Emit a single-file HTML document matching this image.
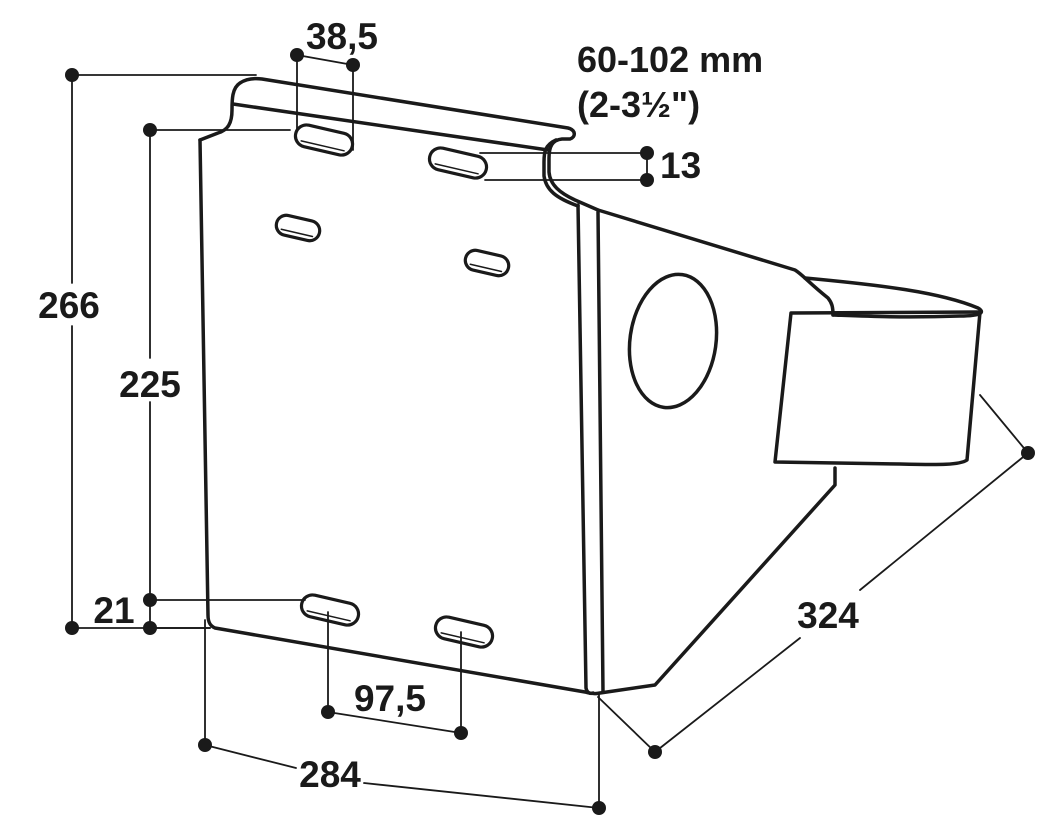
<!DOCTYPE html>
<html><head><meta charset="utf-8"><style>
html,body{margin:0;padding:0;background:#fff;}
svg{display:block;}
text{font-family:"Liberation Sans",Arial,sans-serif;font-weight:bold;fill:#1a1a1a;}
</style></head><body>
<svg width="1041" height="820" viewBox="0 0 1041 820" xmlns="http://www.w3.org/2000/svg">
<g fill="none" stroke="#1a1a1a" stroke-linejoin="round" stroke-linecap="round">
<g stroke-width="3.5">
<path d="M200,140 L218,133 C228,130 232,123 232,110 C232,100 232,88 240,83 C246,79 254,78 262,79 L568,128 C576,130 576,137 570,139 L562,139 C552,140 549,147 549,158 L549,172 C550,185 560,193 575,200 L598,210"/>
<path d="M233,104 L548,150"/>
<path d="M556,140 C545,145 544,152 544,162 L544,176 C546,190 556,198 578,206"/>
<path d="M200,140 L208,615 C208,622 210,626 215,628 L585,692 C592,694 596,694 600,693 L655,685 L835,485 L835,468"/>
<path d="M578,205 L586,688 C587,693 590,694 593,693"/>
<path d="M598,212 L603,692"/>
<path d="M598,210 L795,270 C803,275 808,282 828,298 C832,303 833,307 833,315"/>
<ellipse cx="673" cy="341" rx="43" ry="67" transform="rotate(8 673 341)"/>
<path d="M805,278 C880,285 940,292 978,308 C985,312 982,316 960,316 C900,318 860,316 833,315"/>
<path d="M791,313 L980,312 L967,460 C960,465 940,465 900,464 L775,462 Z"/>
</g>
<g stroke-width="3.2">
<g transform="rotate(13 324 140)"><rect x="295" y="129" width="58" height="22" rx="11"/><path d="M302,146 L346,146" stroke-width="1.5"/></g>
<g transform="rotate(13 458 163)"><rect x="429" y="152" width="58" height="22" rx="11"/><path d="M436,169 L480,169" stroke-width="1.5"/></g>
<g transform="rotate(13 298 228)"><rect x="276" y="218" width="44" height="20" rx="10"/><path d="M282,233 L314,233" stroke-width="1.5"/></g>
<g transform="rotate(13 487 263)"><rect x="465" y="253" width="44" height="20" rx="10"/><path d="M471,268 L503,268" stroke-width="1.5"/></g>
<g transform="rotate(13 330 610)"><rect x="301" y="599" width="58" height="22" rx="11"/><path d="M308,616 L352,616" stroke-width="1.5"/></g>
<g transform="rotate(13 464 632)"><rect x="435" y="621" width="58" height="22" rx="11"/><path d="M442,638 L486,638" stroke-width="1.5"/></g>
</g>
<g stroke-width="1.8">
<path d="M72,75 L256,75 M72,75 L72,283 M72,326 L72,628 M72,628 L210,628"/>
<path d="M150,130 L290,130 M150,130 L150,358 M150,402 L150,628 M150,600 L305,600 M150,628 L210,628"/>
<path d="M297,55 L353,65 M297,55 L297,130 M353,65 L353,150"/>
<path d="M480,153 L647,153 M485,180 L647,180 M647,153 L647,180"/>
<path d="M328,612 L328,712 L461,733 L461,632"/>
<path d="M205,620 L205,745 L296,768 M364,783 L599,808 L599,695"/>
<path d="M980,395 L1028,453 L860,590 M800,638 L655,752 L598,697"/>
</g>
</g>
<g fill="#1a1a1a">
<circle cx="72" cy="75" r="7"/><circle cx="72" cy="628" r="7"/>
<circle cx="150" cy="130" r="7"/><circle cx="150" cy="600" r="7"/><circle cx="150" cy="628" r="7"/>
<circle cx="297" cy="55" r="7"/><circle cx="353" cy="65" r="7"/>
<circle cx="647" cy="153" r="7"/><circle cx="647" cy="180" r="7"/>
<circle cx="328" cy="712" r="7"/><circle cx="461" cy="733" r="7"/>
<circle cx="205" cy="745" r="7"/><circle cx="599" cy="808" r="7"/>
<circle cx="655" cy="752" r="7"/><circle cx="1028" cy="453" r="7"/>
</g>
<g font-size="37" text-anchor="middle">
<text x="69" y="318">266</text>
<text x="150" y="397">225</text>
<text x="114" y="623">21</text>
<text x="342" y="49">38,5</text>
<text x="390" y="711">97,5</text>
<text x="330" y="787">284</text>
<text x="828" y="628">324</text>
</g>
<text x="660" y="178" font-size="37">13</text>
<text x="577" y="72" font-size="36">60-102 mm</text>
<text x="577" y="117" font-size="36">(2-3½")</text>
</svg>
</body></html>
